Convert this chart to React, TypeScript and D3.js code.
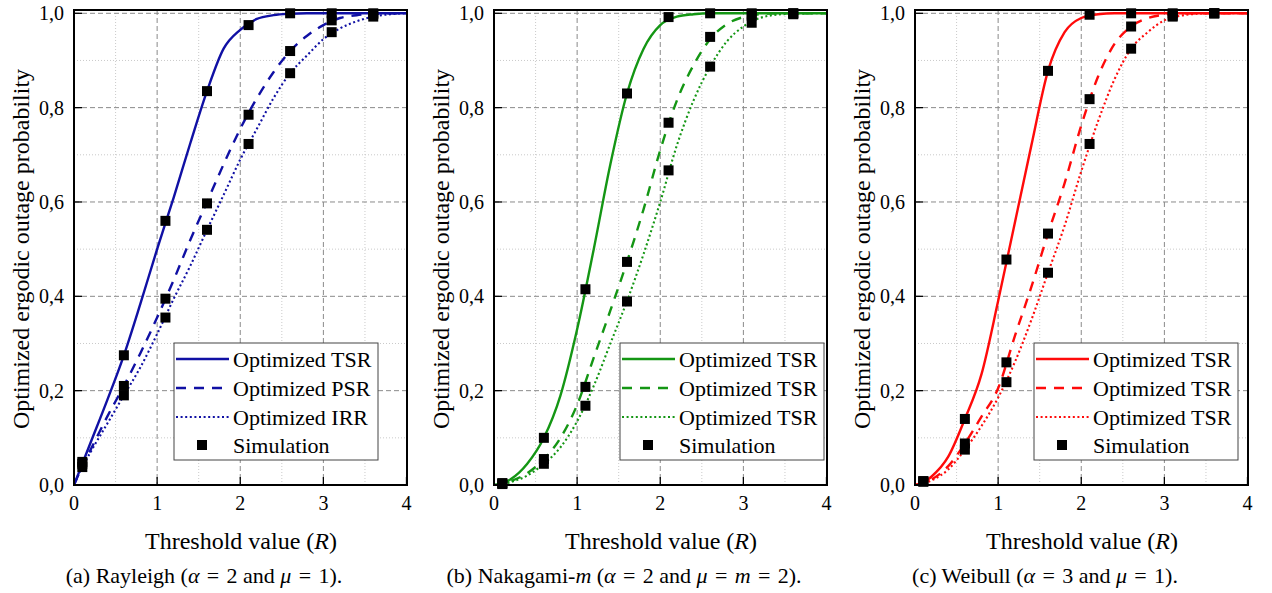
import React from 'react';
import * as d3 from 'd3';

const curveX = [0, 0.1, 0.2, 0.4, 0.6, 0.8, 1.0, 1.2, 1.4, 1.6, 1.8, 2.0, 2.2, 2.4, 2.6, 2.8, 3.0, 3.2, 3.4, 3.6, 3.8, 4.0];
const simX = [0.1, 0.6, 1.1, 1.6, 2.1, 2.6, 3.1, 3.6];
const xTicks = [0, 1, 2, 3, 4];
const xTickLabels = ['0', '1', '2', '3', '4'];
const yTicks = [0, 0.2, 0.4, 0.6, 0.8, 1.0];
const yTickLabels = ['0,0', '0,2', '0,4', '0,6', '0,8', '1,0'];
const xMinor = [0.5, 1.5, 2.5, 3.5];
const yMinor = [0.1, 0.3, 0.5, 0.7, 0.9];

// (a) Rayleigh
const rayTSR = [0, 0.045, 0.09, 0.18, 0.275, 0.385, 0.5, 0.61, 0.725, 0.835, 0.925, 0.965, 0.988, 0.996, 0.999, 1, 1, 1, 1, 1, 1, 1];
const rayPSR = [0, 0.04, 0.075, 0.145, 0.21, 0.28, 0.355, 0.435, 0.52, 0.6, 0.68, 0.755, 0.82, 0.875, 0.92, 0.952, 0.975, 0.99, 0.996, 0.999, 1, 1];
const rayIRR = [0, 0.038, 0.07, 0.13, 0.19, 0.25, 0.32, 0.395, 0.465, 0.541, 0.615, 0.69, 0.755, 0.82, 0.873, 0.91, 0.945, 0.968, 0.983, 0.993, 0.998, 1];
const raySimTSR = [0.049, 0.275, 0.56, 0.835, 0.975, 1.0, 1.0, 1.0];
const raySimPSR = [0.045, 0.21, 0.395, 0.597, 0.785, 0.92, 0.985, 0.998];
const raySimIRR = [0.038, 0.19, 0.355, 0.541, 0.723, 0.873, 0.96, 0.993];

// (b) Nakagami-m
const nakTSR = [0, 0.003, 0.012, 0.045, 0.1, 0.19, 0.33, 0.5, 0.68, 0.83, 0.925, 0.975, 0.993, 0.998, 1, 1, 1, 1, 1, 1, 1, 1];
const nakPSR = [0, 0.002, 0.008, 0.025, 0.055, 0.1, 0.17, 0.27, 0.37, 0.473, 0.585, 0.71, 0.815, 0.89, 0.945, 0.977, 0.992, 0.998, 1, 1, 1, 1];
const nakIRR = [0, 0.001, 0.006, 0.02, 0.045, 0.08, 0.135, 0.21, 0.3, 0.39, 0.49, 0.6, 0.72, 0.815, 0.887, 0.94, 0.972, 0.99, 0.997, 0.999, 1, 1];
const nakSimTSR = [0.004, 0.1, 0.415, 0.83, 0.992, 1.0, 1.0, 1.0];
const nakSimPSR = [0.003, 0.055, 0.208, 0.473, 0.768, 0.95, 0.995, 1.0];
const nakSimIRR = [0.002, 0.045, 0.168, 0.389, 0.667, 0.887, 0.98, 0.998];

// (c) Weibull
const weiTSR = [0, 0.005, 0.018, 0.06, 0.14, 0.235, 0.39, 0.555, 0.72, 0.878, 0.96, 0.99, 0.998, 1, 1, 1, 1, 1, 1, 1, 1, 1];
const weiPSR = [0, 0.004, 0.012, 0.04, 0.088, 0.145, 0.205, 0.315, 0.42, 0.533, 0.64, 0.762, 0.865, 0.935, 0.972, 0.99, 0.997, 1, 1, 1, 1, 1];
const weiIRR = [0, 0.003, 0.01, 0.033, 0.075, 0.125, 0.185, 0.26, 0.35, 0.45, 0.55, 0.665, 0.77, 0.86, 0.925, 0.96, 0.985, 0.995, 0.999, 1, 1, 1];
const weiSimTSR = [0.008, 0.14, 0.478, 0.878, 0.997, 1.0, 1.0, 1.0];
const weiSimPSR = [0.008, 0.088, 0.26, 0.533, 0.818, 0.972, 0.995, 1.0];
const weiSimIRR = [0.007, 0.075, 0.218, 0.45, 0.723, 0.925, 0.993, 1.0];

const labelsA = ['Optimized TSR', 'Optimized PSR', 'Optimized IRR', 'Simulation'];
const labelsBC = ['Optimized TSR', 'Optimized TSR', 'Optimized TSR', 'Simulation'];

const FONT = "'Liberation Serif', 'Times New Roman', Times, serif";
const DASHES = ['', '10,8', '2,2.6'];
const WIDTHS = [2.4, 2.4, 2.1];
const EQ = '\u2004=\u2004';

type PanelProps = {
  ox: number;
  color: string;
  curves: number[][];
  sims: number[][];
  labels: string[];
  legendLeft: number;
  caption: React.ReactNode;
  clipId: string;
};

const PLOT_L = 74;
const PLOT_R = 407;
const PLOT_T = 10;
const PLOT_B = 485;

function Panel({ ox, color, curves, sims, labels, legendLeft, caption, clipId }: PanelProps) {
  const x = d3.scaleLinear().domain([0, 4]).range([ox + PLOT_L, ox + PLOT_R - 0.5]);
  const y = d3.scaleLinear().domain([0, 1]).range([PLOT_B, 13.3]);
  const line = d3
    .line<number>()
    .x((_, i) => x(curveX[i]))
    .y((d) => y(d))
    .curve(d3.curveMonotoneX);
  const ms = 10;
  const L = ox + legendLeft;
  const legW = 204;
  const legT = 343;
  const legB = 460;
  const rows = [359, 388, 417, 445];
  return (
    <g>
      <defs>
        <clipPath id={clipId}>
          <rect x={ox + PLOT_L} y={PLOT_T} width={PLOT_R - PLOT_L} height={PLOT_B - PLOT_T} />
        </clipPath>
      </defs>
      {xMinor.map((v) => (
        <line key={'xm' + v} x1={x(v)} x2={x(v)} y1={PLOT_T} y2={PLOT_B} stroke="#c4c4c4" strokeWidth={0.9} strokeDasharray="1,2" />
      ))}
      {yMinor.map((v) => (
        <line key={'ym' + v} x1={ox + PLOT_L} x2={ox + PLOT_R} y1={y(v)} y2={y(v)} stroke="#c4c4c4" strokeWidth={0.9} strokeDasharray="1,2" />
      ))}
      {xTicks.slice(1, -1).map((v) => (
        <line key={'xg' + v} x1={x(v)} x2={x(v)} y1={PLOT_T} y2={PLOT_B} stroke="#8a8a8a" strokeWidth={1} strokeDasharray="5,3" />
      ))}
      {yTicks.slice(1).map((v) => (
        <line key={'yg' + v} x1={ox + PLOT_L} x2={ox + PLOT_R} y1={y(v)} y2={y(v)} stroke="#8a8a8a" strokeWidth={1} strokeDasharray="5,3" />
      ))}
      <g clipPath={`url(#${clipId})`}>
        {curves.map((c, i) => (
          <path key={'c' + i} d={line(c) || ''} fill="none" stroke={color} strokeWidth={WIDTHS[i]} strokeDasharray={DASHES[i]} />
        ))}
      </g>
      {sims.map((s, i) =>
        s.map((v, j) => (
          <rect key={'m' + i + '-' + j} x={x(simX[j]) - ms / 2} y={y(v) - ms / 2} width={ms} height={ms} fill="#000" />
        ))
      )}
      {yTicks.map((v) => (
        <line key={'yt' + v} x1={ox + PLOT_L} x2={ox + PLOT_L + 8} y1={y(v)} y2={y(v)} stroke="#000" strokeWidth={1.3} />
      ))}
      {xTicks.map((v) => (
        <line key={'xt' + v} x1={x(v)} x2={x(v)} y1={PLOT_B} y2={PLOT_B - 8} stroke="#000" strokeWidth={1.3} />
      ))}
      <rect x={ox + PLOT_L} y={PLOT_T} width={PLOT_R - PLOT_L} height={PLOT_B - PLOT_T} fill="none" stroke="#000" strokeWidth={2} />
      {yTicks.map((v, i) => (
        <text key={'yl' + v} x={ox + 64} y={y(v) + 7} textAnchor="end" fontSize={20} style={{ fontFamily: FONT }}>
          {yTickLabels[i]}
        </text>
      ))}
      {xTicks.map((v, i) => (
        <text key={'xl' + v} x={x(v)} y={510} textAnchor="middle" fontSize={20} style={{ fontFamily: FONT }}>
          {xTickLabels[i]}
        </text>
      ))}
      <text x={ox + 241} y={549} textAnchor="middle" fontSize={24} style={{ fontFamily: FONT }}>
        Threshold value (<tspan fontStyle="italic">R</tspan>)
      </text>
      <text transform={`translate(${ox + 29},249) rotate(-90)`} textAnchor="middle" fontSize={24} style={{ fontFamily: FONT }}>
        Optimized ergodic outage probability
      </text>
      <rect x={L} y={legT} width={legW} height={legB - legT} fill="#fff" stroke="#444" strokeWidth={1} />
      {labels.map((lab, i) => (
        <g key={'lg' + i}>
          {i < 3 ? (
            <line x1={L + 2} x2={L + 55} y1={rows[i]} y2={rows[i]} stroke={color} strokeWidth={WIDTHS[i]} strokeDasharray={DASHES[i]} />
          ) : (
            <rect x={L + 28 - 5} y={rows[i] - 5} width={10} height={10} fill="#000" />
          )}
          <text x={L + 59} y={rows[i] + 7.5} fontSize={22} style={{ fontFamily: FONT }}>
            {lab}
          </text>
        </g>
      ))}
      <text x={ox + 204} y={583} textAnchor="middle" fontSize={22} style={{ fontFamily: FONT }}>
        {caption}
      </text>
    </g>
  );
}

export default function App() {
  return (
    <svg width={1272} height={593} viewBox="0 0 1272 593" style={{ position: 'absolute', left: 0, top: 0, background: '#fff', fontFamily: FONT }}>
      <rect x={0} y={0} width={1272} height={593} fill="#fff" />
      <Panel
        ox={0}
        color="#1010a4"
        curves={[rayTSR, rayPSR, rayIRR]}
        sims={[raySimTSR, raySimPSR, raySimIRR]}
        labels={labelsA}
        legendLeft={174}
        clipId="clipA"
        caption={
          <>
            (a) Rayleigh (<tspan fontStyle="italic">α</tspan>{EQ}2 and <tspan fontStyle="italic">μ</tspan>{EQ}1).
          </>
        }
      />
      <Panel
        ox={420}
        color="#149614"
        curves={[nakTSR, nakPSR, nakIRR]}
        sims={[nakSimTSR, nakSimPSR, nakSimIRR]}
        labels={labelsBC}
        legendLeft={200}
        clipId="clipB"
        caption={
          <>
            (b) Nakagami-<tspan fontStyle="italic">m</tspan> (<tspan fontStyle="italic">α</tspan>{EQ}2 and{' '}
            <tspan fontStyle="italic">μ</tspan>{EQ}<tspan fontStyle="italic">m</tspan>{EQ}2).
          </>
        }
      />
      <Panel
        ox={841}
        color="#ff0a0a"
        curves={[weiTSR, weiPSR, weiIRR]}
        sims={[weiSimTSR, weiSimPSR, weiSimIRR]}
        labels={labelsBC}
        legendLeft={193}
        clipId="clipC"
        caption={
          <>
            (c) Weibull (<tspan fontStyle="italic">α</tspan>{EQ}3 and <tspan fontStyle="italic">μ</tspan>{EQ}1).
          </>
        }
      />
    </svg>
  );
}
